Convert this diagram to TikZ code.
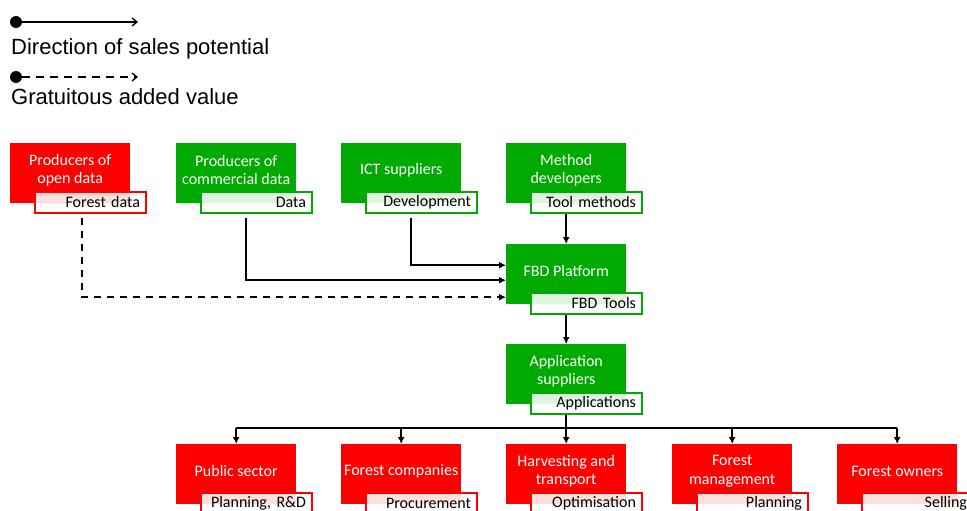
\documentclass[tikz,border=0pt]{standalone}
\usepackage{fontspec}
\setmainfont{Carlito}
\newfontfamily\legendfont{Liberation Sans}
\usetikzlibrary{arrows.meta}

\definecolor{actred}{RGB}{255,0,0}
\definecolor{actgreen}{RGB}{0,170,0}

\tikzset{
  actor/.style={fill=#1, minimum width=120pt, minimum height=60pt,
    inner sep=0pt, anchor=north west},
  actortext/.style={text=white, align=center, inner sep=0pt,
    font=\fontsize{16}{18.5}\selectfont},
  product/.style={draw=#1, line width=2pt, fill=white, fill opacity=0.87,
    text opacity=1, minimum width=111pt, minimum height=21pt,
    text width=99pt, align=right, inner xsep=6pt, inner ysep=0pt,
    anchor=north west, font=\fontsize{16}{18}\selectfont},
  flow/.style={line width=1.8pt, -{Latex[length=7pt,width=7pt]}},
  gift/.style={flow, dash pattern=on 7pt off 6pt},
  bus/.style={line width=1.8pt},
  legenddot/.style={circle, fill=black, minimum size=12pt, inner sep=0pt},
  legendline/.style={line width=1.3pt, -{Straight Barb[length=5pt,width=8pt]}},
  legendtext/.style={anchor=base west, inner sep=0pt,
    font=\legendfont\fontsize{22}{26}\selectfont},
}

% actor box with its product tab: name, left, top, colour, text, tab name, tab text
\newcommand\actorbox[7]{%
  \node[actor=#4] (#1) at (#2,#3) {};
  \node[actortext] at ([yshift=3pt]#1.center) {#5};
  \node[product=#4] (#6) at (#2+24,#3+48) {#7};
}

\begin{document}
\begin{tikzpicture}[x=1pt,y=-1pt]
\useasboundingbox (0,0) rectangle (967,511);
\clip (0,0) rectangle (967,511);

% legend
\node[legenddot] (dotA) at (16,22) {};
\coordinate (tipA) at (138,22);
\draw[legendline] (dotA) -- (tipA);
\node[legendtext] (legA) at (11,55) {Direction of sales potential};

\node[legenddot] (dotB) at (16,77) {};
\coordinate (tipB) at (138,77);
\draw[legendline, dash pattern=on 8pt off 6pt] (dotB) -- (tipB);
\node[legendtext] (legB) at (11,104) {Gratuitous added value};

% top row
\actorbox{open}{10}{143}{actred}{Producers of\\open data}{openp}{Forest data}
\actorbox{comm}{176}{143}{actgreen}{Producers of\\commercial data}{commp}{Data}
\actorbox{ict}{341}{143}{actgreen}{ICT suppliers}{ictp}{Development}
\actorbox{meth}{506}{143}{actgreen}{Method\\developers}{methp}{Tool methods}

% platform and applications
\actorbox{fbd}{506}{244}{actgreen}{FBD Platform}{fbdp}{FBD Tools}
\actorbox{app}{506}{344}{actgreen}{Application\\suppliers}{appp}{Applications}

% bottom row
\actorbox{pub}{176}{444}{actred}{Public sector}{pubp}{Planning, R\&D}
\actorbox{comp}{341}{444}{actred}{Forest companies}{compp}{Procurement}
\actorbox{harv}{506}{444}{actred}{Harvesting and\\transport}{harvp}{Optimisation}
\actorbox{mgmt}{672}{444}{actred}{Forest\\management}{mgmtp}{Planning}
\actorbox{own}{837}{444}{actred}{Forest owners}{ownp}{Selling}

% flows into the platform
\draw[flow] (meth.south |- methp.south) -- (fbd.north);
\draw[flow, shorten <=4pt] ([xshift=10pt]ict.south |- ictp.south) |- ([yshift=9pt]fbd.west);
\draw[flow, shorten <=4pt] ([xshift=10pt]comm.south |- commp.south) |- ([yshift=-6pt]fbd.west);
\draw[gift, shorten <=4pt] ([xshift=12pt]open.south |- openp.south) |- ([yshift=-23pt]fbd.west);

\draw[flow] (fbd.south |- fbdp.south) -- (app.north);

% distribution to the users
\coordinate (bus) at (566,428);
\draw[flow] (app.south |- appp.south) -- (harv.north);
\draw[bus] (pub.north |- bus) -- (own.north |- bus);
\foreach \n in {pub,comp,mgmt,own}
  \draw[flow] (\n.north |- bus) -- (\n.north);
\end{tikzpicture}
\end{document}
